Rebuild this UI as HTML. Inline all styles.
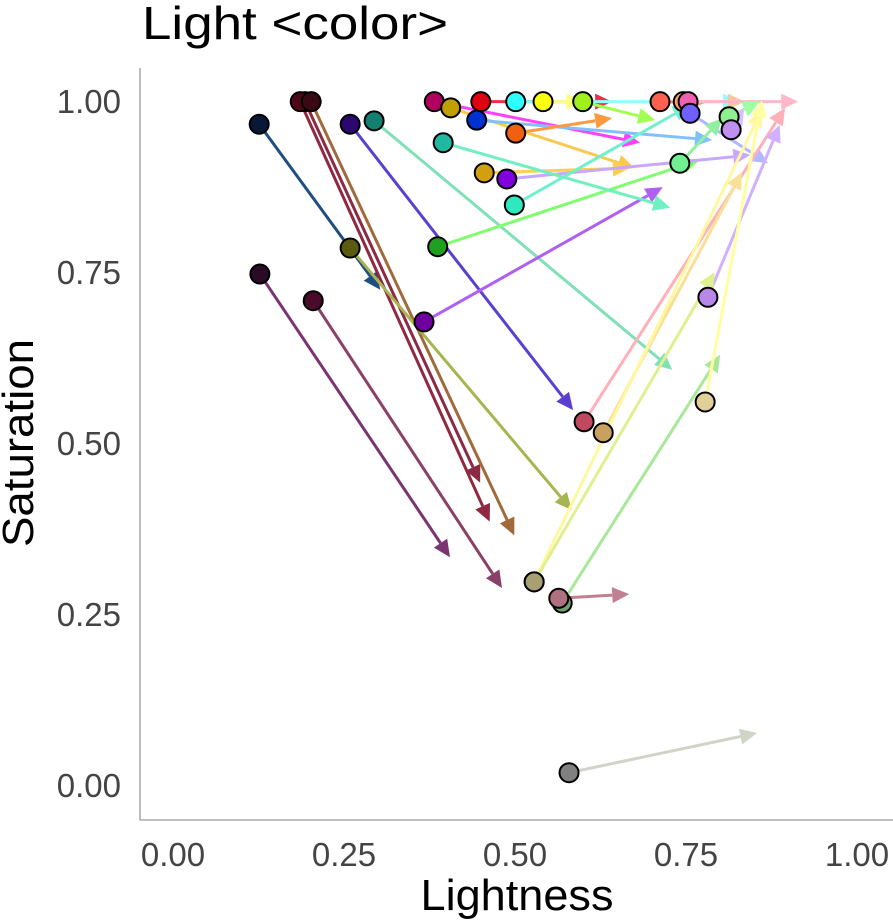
<!DOCTYPE html>
<html><head><meta charset="utf-8"><style>
body{margin:0;background:#fff;width:893px;height:919px;overflow:hidden;font-family:"Liberation Sans",sans-serif;}
svg text{font-family:"Liberation Sans",sans-serif;}
</style></head><body>
<svg id="chart" width="893" height="919" viewBox="0 0 893 919" xmlns="http://www.w3.org/2000/svg">
<text x="142" y="39" font-size="46" fill="#000" textLength="306" lengthAdjust="spacingAndGlyphs">Light &lt;color&gt;</text>
<line x1="140" y1="68" x2="140" y2="820" stroke="#999" stroke-width="1.3"/>
<line x1="140" y1="820" x2="893" y2="820" stroke="#999" stroke-width="1.3"/>
<text transform="translate(33,443) rotate(-90)" text-anchor="middle" font-size="44" fill="#000" textLength="208" lengthAdjust="spacingAndGlyphs">Saturation</text>
<text x="517" y="910" text-anchor="middle" font-size="44" fill="#000" textLength="193" lengthAdjust="spacingAndGlyphs">Lightness</text>
<g id="ticks"></g>
<g id="lines"></g>
<g id="dots"></g>
</svg>
<script>
const tickValues=[0,0.25,0.5,0.75,1];
const tickLabels=["0.00","0.25","0.50","0.75","1.00"];
const startL=[0.126,0.193,0.186,0.202,0.259,0.294,0.127,0.205,0.259,0.367,0.387,0.382,0.406,0.450,0.444,0.501,0.455,0.488,0.499,0.395,0.501,0.541,0.599,0.712,0.746,0.753,0.756,0.813,0.816,0.741,0.601,0.629,0.528,0.569,0.564,0.782,0.778,0.579,0.528];
const startS=[0.966,0.999,0.999,0.999,0.966,0.971,0.747,0.708,0.785,0.677,0.787,0.999,0.990,0.999,0.972,0.953,0.895,0.886,0.848,0.939,0.999,0.999,0.999,0.999,0.999,0.999,0.982,0.977,0.958,0.909,0.531,0.515,0.297,0.266,0.273,0.713,0.560,0.018,0.297];
const endL=[0.303,0.449,0.463,0.499,0.585,0.730,0.405,0.481,0.583,0.716,0.770,0.683,0.675,0.642,0.788,0.642,0.668,0.844,0.756,0.727,0.829,0.600,0.705,0.777,0.836,0.914,0.870,0.858,0.835,0.803,0.895,0.832,0.861,0.800,0.667,0.887,0.861,0.854,0.792];
const endS=[0.724,0.442,0.385,0.365,0.548,0.607,0.333,0.288,0.402,0.874,0.914,0.939,0.902,0.999,0.943,0.975,0.902,0.921,0.994,0.844,0.999,0.999,0.972,0.997,0.999,0.999,0.909,0.999,0.990,0.975,0.990,0.896,0.987,0.629,0.279,0.965,1.001,0.076,0.750];
const fills=["#0a1838","#4a0a1a","#500818","#3a0a14","#2a0870","#128070","#2a0a25","#4a0a2a","#5a5a10","#7000a0","#20a020","#b00060","#c0a000","#e00010","#0030d0","#f06010","#d0a010","#8000e0","#30e8c0","#20b8a0","#30ffff","#ffff10","#a0f020","#ff6050","#ffa070","#f060b0","#7060ff","#90f090","#c090f0","#70f090","#c04860","#c8a060","#a8a070","#70a070","#b07080","#b888e8","#e0d098","#808080","#a8a070"];
const strokes=["#1f4e80","#8b2a45","#902840","#a06a3a","#5a40d0","#80e0b8","#7a3570","#8b4068","#a8b450","#b060f0","#80ff70","#ff40ff","#f8c850","#f03040","#80c0ff","#ff9a40","#ffd050","#c8a8ff","#70f0d0","#70f0c0","#90ffff","#ffff80","#a0ff50","#ff9080","#f8c8a0","#ffb8c8","#b0b8ff","#a0ffa0","#d8c0ff","#90f0a0","#ffb0b8","#f8e098","#fff8a0","#a8e898","#c08090","#d0b0ff","#ffffa0","#d0d4c8","#e0f090"];
const X=v=>173+684*v, Y=v=>785-684*v;
const NS="http://www.w3.org/2000/svg";
const tk=document.getElementById('ticks');
tickValues.forEach((v,i)=>{
  const t=document.createElementNS(NS,'text');
  
  
  t.setAttribute('x',121);t.setAttribute('y',Y(v)+12);t.setAttribute('text-anchor','end');
  t.setAttribute('font-size','33');t.setAttribute('fill','#444');t.textContent=tickLabels[i];tk.appendChild(t);
  const u=document.createElementNS(NS,'text');
  
  
  u.setAttribute('x',X(v));u.setAttribute('y',866);u.setAttribute('text-anchor','middle');
  u.setAttribute('font-size','33');u.setAttribute('fill','#444');u.textContent=tickLabels[i];tk.appendChild(u);
});
const lg=document.getElementById('lines'), dg=document.getElementById('dots');
for(let i=0;i<startL.length;i++){
  const x0=X(startL[i]),y0=Y(startS[i]),x1=X(endL[i]),y1=Y(endS[i]);
  const dx=x1-x0,dy=y1-y0,len=Math.hypot(dx,dy)||1,ux=dx/len,uy=dy/len;
  const hl=17,hw=8,bx=x1-ux*hl,by=y1-uy*hl;
  const ln=document.createElementNS(NS,'line');
  
  
  ln.setAttribute('x1',x0);ln.setAttribute('y1',y0);ln.setAttribute('x2',bx);ln.setAttribute('y2',by);
  ln.setAttribute('stroke',strokes[i]);ln.setAttribute('stroke-width','3');lg.appendChild(ln);
  const hd=document.createElementNS(NS,'polygon');
  
  
  hd.setAttribute('points',`${x1},${y1} ${bx-uy*hw},${by+ux*hw} ${bx+uy*hw},${by-ux*hw}`);
  hd.setAttribute('fill',strokes[i]);lg.appendChild(hd);
  const c=document.createElementNS(NS,'circle');
  
  
  c.setAttribute('cx',x0);c.setAttribute('cy',y0);c.setAttribute('r','9.5');
  c.setAttribute('fill',fills[i]);c.setAttribute('stroke','#000');c.setAttribute('stroke-width','2');dg.appendChild(c);
}
</script>
</body></html>
